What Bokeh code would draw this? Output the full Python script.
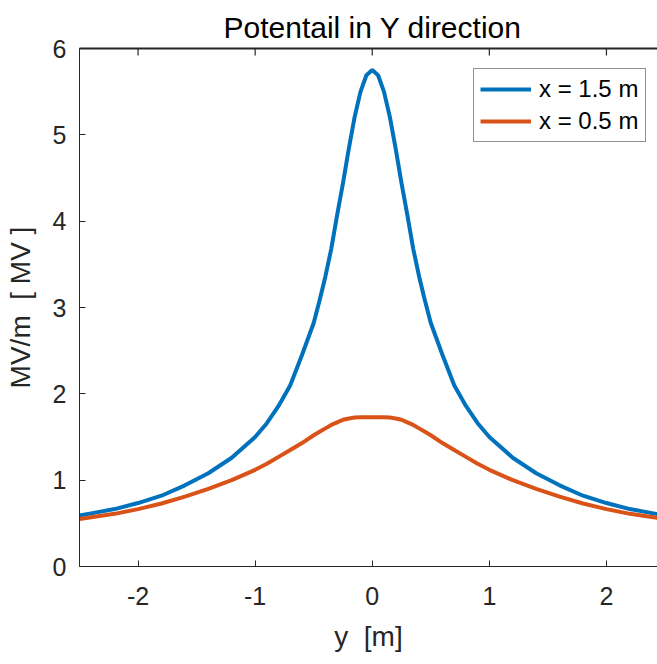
from bokeh.plotting import figure
from bokeh.models import FixedTicker, Range1d, Legend, LegendItem
from bokeh.embed import file_html
from bokeh.resources import INLINE

# ---- data ----
y_pos = [-2.5, -2.4, -2.2, -2.0, -1.8, -1.6, -1.4, -1.2, -1.0, -0.9, -0.8, -0.7, -0.6,
         -0.5, -0.45, -0.4, -0.35, -0.3, -0.25, -0.2, -0.15, -0.1, -0.05, 0.0,
         0.05, 0.1, 0.15, 0.2, 0.25, 0.3, 0.35, 0.4, 0.45, 0.5, 0.6, 0.7, 0.8, 0.9,
         1.0, 1.2, 1.4, 1.6, 1.8, 2.0, 2.2, 2.4, 2.5]
pot_x15 = [0.59, 0.615, 0.665, 0.735, 0.82, 0.94, 1.08, 1.26, 1.50, 1.66, 1.86, 2.10, 2.45,
           2.82, 3.08, 3.36, 3.68, 4.07, 4.44, 4.84, 5.21, 5.50, 5.69, 5.75,
           5.69, 5.50, 5.21, 4.84, 4.44, 4.07, 3.68, 3.36, 3.08, 2.82, 2.45, 2.10, 1.86, 1.66,
           1.50, 1.26, 1.08, 0.94, 0.82, 0.735, 0.665, 0.615, 0.59]
pot_x05 = [0.55, 0.57, 0.61, 0.665, 0.73, 0.81, 0.90, 1.00, 1.12, 1.19, 1.27, 1.35, 1.43,
           1.52, 1.56, 1.60, 1.64, 1.67, 1.70, 1.715, 1.725, 1.73, 1.73, 1.73,
           1.73, 1.73, 1.725, 1.715, 1.70, 1.67, 1.64, 1.60, 1.56, 1.52, 1.43, 1.35, 1.27, 1.19,
           1.12, 1.00, 0.90, 0.81, 0.73, 0.665, 0.61, 0.57, 0.55]
x_ticks = [-2, -1, 0, 1, 2]
x_tick_labels = ["-2", "-1", "0", "1", "2"]
y_ticks = [0, 1, 2, 3, 4, 5, 6]
series_labels = ["x = 1.5 m", "x = 0.5 m"]
title_text = "Potentail in Y direction"
x_label = "y\u00a0\u00a0[m]"
y_label = "MV/m\u00a0\u00a0[\u00a0MV\u00a0]"

FONT = "Liberation Sans"
DARK = "#262626"

X0, X1 = -2.5, 2.436
Y0, Y1 = 0, 6
W, H = 657, 664
BL, BT, BB = 79, 48, 98
frame_h = H - BT - BB

p = figure(width=W, height=H, output_backend="svg", toolbar_location=None,
           x_range=Range1d(X0, X1), y_range=Range1d(Y0, Y1),
           min_border_left=BL, min_border_right=0, min_border_top=BT, min_border_bottom=BB,
           title=title_text)
p.background_fill_color = "white"
p.border_fill_color = "white"
p.outline_line_color = None
p.grid.visible = False

p.title.text_font = FONT
p.title.text_font_size = "30px"
p.title.text_font_style = "normal"
p.title.text_color = "black"
p.title.align = "left"
p.title.offset = 144
p.title.standoff = 10

for ax in (p.xaxis[0], p.yaxis[0]):
    ax.axis_line_color = DARK
    ax.major_tick_line_color = DARK
    ax.major_tick_in = 6
    ax.major_tick_out = 0
    ax.minor_tick_line_color = None
    ax.major_label_text_font = FONT
    ax.major_label_text_font_size = "25px"
    ax.major_label_text_color = DARK
    ax.axis_label_text_font = FONT
    ax.axis_label_text_font_size = "28px"
    ax.axis_label_text_font_style = "normal"
    ax.axis_label_text_color = DARK

p.xaxis[0].ticker = FixedTicker(ticks=x_ticks)
p.xaxis[0].major_label_overrides = dict(zip(x_ticks, x_tick_labels))
p.yaxis[0].ticker = FixedTicker(ticks=y_ticks)
p.xaxis[0].axis_label = x_label
p.yaxis[0].axis_label = y_label
p.xaxis[0].major_label_standoff = 20
p.yaxis[0].major_label_standoff = 13
p.xaxis[0].axis_label_standoff = 13
p.yaxis[0].axis_label_standoff = 14

# top edge of the axes box with inward ticks
top_edge = p.line(x=[X0, X1], y=[Y1, Y1], line_color=DARK, line_width=2)
top_edge.level = "overlay"
tick_len = (Y1 - Y0) * 7 / frame_h
top_ticks = p.segment(x0=x_ticks, y0=[Y1] * len(x_ticks), x1=x_ticks,
                      y1=[Y1 - tick_len] * len(x_ticks), line_color=DARK, line_width=1.2)
top_ticks.level = "overlay"

r1 = p.line(y_pos, pot_x15, line_color="#0072BD", line_width=4)
r2 = p.line(y_pos, pot_x05, line_color="#D95319", line_width=4)

legend = Legend(items=[LegendItem(label=series_labels[0], renderers=[r1]),
                       LegendItem(label=series_labels[1], renderers=[r2])],
                location=(394, 424))
legend.border_line_color = DARK
legend.border_line_width = 1
legend.background_fill_color = "white"
legend.background_fill_alpha = 1
legend.label_text_font = FONT
legend.label_text_font_size = "24px"
legend.label_text_color = "black"
legend.glyph_width = 51
legend.glyph_height = 28
legend.label_height = 28
legend.label_width = 100
legend.spacing = 4
legend.padding = 6
legend.margin = 0
legend.label_standoff = 8
p.add_layout(legend, "center")

open("out.html", "w").write(file_html(p, INLINE))
